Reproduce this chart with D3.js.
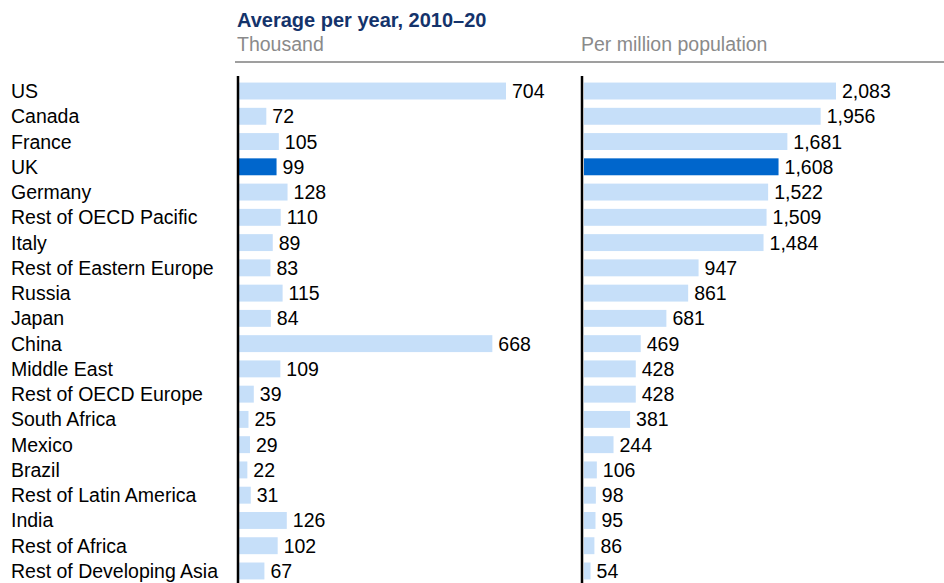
<!DOCTYPE html>
<html>
<head>
<meta charset="utf-8">
<script src="https://cdn.jsdelivr.net/npm/d3@7"></script>
<style>
  html, body { margin: 0; padding: 0; background: #fff; }
  svg { display: block; font-family: "Liberation Sans", Arial, sans-serif; }
</style>
</head>
<body>
<svg id="chart" width="944" height="583"></svg>
<script>
// Regions, ordered by migration per million population
const regions = [
  "US", "Canada", "France", "UK", "Germany", "Rest of OECD Pacific", "Italy",
  "Rest of Eastern Europe", "Russia", "Japan", "China", "Middle East",
  "Rest of OECD Europe", "South Africa", "Mexico", "Brazil",
  "Rest of Latin America", "India", "Rest of Africa", "Rest of Developing Asia"
];
// Average per year 2010–20, thousand
const thousand = [704, 72, 105, 99, 128, 110, 89, 83, 115, 84, 668, 109, 39, 25, 29, 22, 31, 126, 102, 67];
// Average per year 2010–20, per million population
const perMillion = [2083, 1956, 1681, 1608, 1522, 1509, 1484, 947, 861, 681, 469, 428, 428, 381, 244, 106, 98, 95, 86, 54];
const highlight = "UK";

const title = "Average per year, 2010–20";
const panelTitles = ["Thousand", "Per million population"];

const svg = d3.select("#chart");
const fmt = d3.format(",");
const fs = 19.5;

const y = d3.scaleBand()
  .domain(regions)
  .range([78.4, 583.6])
  .paddingInner(0.33)
  .paddingOuter(0.165);

const panels = [
  { values: thousand, x: d3.scaleLinear().domain([0, 704]).range([239, 506]), axisX: 238, label: panelTitles[0] },
  { values: perMillion, x: d3.scaleLinear().domain([0, 2083]).range([584, 836]), axisX: 582, label: panelTitles[1] }
];

// Header
svg.append("text")
  .attr("x", 237).attr("y", 27)
  .attr("font-size", 20).attr("font-weight", "bold")
  .attr("fill", "#14336b")
  .text(title);

panels.forEach(p => {
  svg.append("text")
    .attr("x", p.axisX - 1).attr("y", 51)
    .attr("font-size", fs).attr("fill", "#8a8a8a")
    .text(p.label);
});

svg.append("line")
  .attr("x1", 235).attr("x2", 944)
  .attr("y1", 62).attr("y2", 62)
  .attr("stroke", "#7f7f7f").attr("stroke-width", 1.5);

// Region labels
svg.append("g").selectAll("text")
  .data(regions)
  .join("text")
  .attr("x", 11)
  .attr("y", d => y(d) + y.bandwidth() / 2)
  .attr("dy", "0.36em")
  .attr("font-size", fs)
  .attr("fill", "#000")
  .text(d => d);

// Bars and value labels for each panel
panels.forEach(p => {
  const rows = regions.map((r, i) => ({ region: r, value: p.values[i] }));
  const g = svg.append("g");

  g.selectAll("rect")
    .data(rows)
    .join("rect")
    .attr("x", p.x(0))
    .attr("y", d => y(d.region))
    .attr("width", d => p.x(d.value) - p.x(0))
    .attr("height", y.bandwidth())
    .attr("fill", d => d.region === highlight ? "#0066cc" : "#c6dff9");

  g.selectAll("text")
    .data(rows)
    .join("text")
    .attr("x", d => p.x(d.value) + 6)
    .attr("y", d => y(d.region) + y.bandwidth() / 2)
    .attr("dy", "0.36em")
    .attr("font-size", fs)
    .attr("fill", "#000")
    .text(d => fmt(d.value));

  g.append("line")
    .attr("x1", p.axisX).attr("x2", p.axisX)
    .attr("y1", 76).attr("y2", 583)
    .attr("stroke", "#000").attr("stroke-width", 2.5);
});
</script>
</body>
</html>
